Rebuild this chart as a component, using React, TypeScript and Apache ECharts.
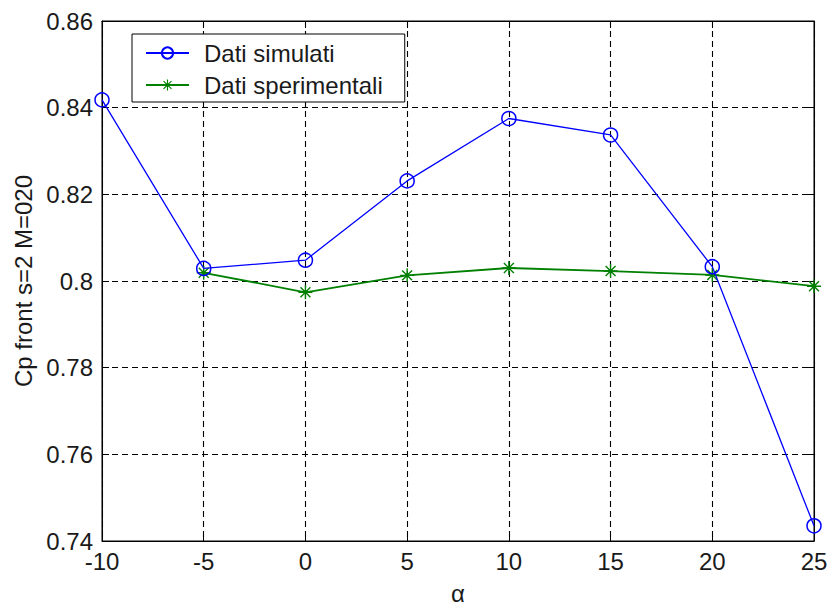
import React, { useEffect, useRef } from "react";
import * as echarts from "echarts";

// Angle of attack (deg)
const alpha = [-10, -5, 0, 5, 10, 15, 20, 25];
// Cp front, simulated
const simulated = [0.8418, 0.8029, 0.8048, 0.8231, 0.8375, 0.8337, 0.8033, 0.7435];
// Cp front, measured (no measurement at -10)
const experimental = [null, 0.8019, 0.7974, 0.8013, 0.803, 0.8023, 0.8014, 0.7988];

const xTicks = { min: -10, max: 25, step: 5 };
const yTicks = { min: 0.74, max: 0.86, step: 0.02 };

// Asterisk marker built from thin bars plus a centre dot
const ASTERISK =
  "path://M9,0L11,0L11,20L9,20Z M0,9L20,9L20,11L0,11Z " +
  "M2.2,3.6L3.6,2.2L17.8,16.4L16.4,17.8Z M16.4,2.2L17.8,3.6L3.6,17.8L2.2,16.4Z " +
  "M7,7L13,7L13,13L7,13Z";

const FONT = "'Liberation Sans', Arial, Helvetica, sans-serif";
const TEXT = "#1a1a1a";
const FS = 24;

export default function App() {
  const ref = useRef<HTMLDivElement>(null);

  useEffect(() => {
    if (!ref.current) return;
    const chart = echarts.init(ref.current, undefined, { renderer: "svg" });

    const pair = (arr: (number | null)[]) =>
      alpha
        .map((a, i) => [a, arr[i]])
        .filter((p) => p[1] !== null) as number[][];

    const fmt = (v: number) => String(+v.toFixed(2));

    const gridDash = { color: "#000", width: 1.1, type: [6, 4] as number[] };

    chart.setOption({
      animation: false,
      backgroundColor: "#fff",
      textStyle: { fontFamily: FONT },
      grid: {
        left: 102,
        top: 21,
        right: 14,
        bottom: 64,
        containLabel: false,
        outerBoundsMode: "none",
        show: true,
        borderColor: "#000",
        borderWidth: 1,
        backgroundColor: "#fff",
      },
      legend: {
        left: 132,
        top: 34,
        orient: "vertical",
        backgroundColor: "#fff",
        borderColor: "#000",
        borderWidth: 1,
        borderRadius: 0,
        padding: [6, 22, 4, 13],
        itemWidth: 43,
        itemHeight: 14,
        itemGap: 6,
        textStyle: {
          fontFamily: FONT,
          fontSize: FS,
          color: TEXT,
          lineHeight: 26,
          padding: [0, 0, 0, 10],
        },
        data: ["Dati simulati", "Dati sperimentali"],
      },
      xAxis: [
        {
          type: "value",
          min: xTicks.min,
          max: xTicks.max,
          interval: xTicks.step,
          name: "α",
          nameLocation: "middle",
          nameGap: 40,
          nameTextStyle: { fontFamily: FONT, fontSize: FS, color: TEXT },
          axisLine: { show: true, onZero: false, lineStyle: { color: "#000", width: 1 } },
          axisTick: { show: true, inside: true, length: 7, lineStyle: { color: "#000" } },
          axisLabel: { fontFamily: FONT, fontSize: FS, color: TEXT, margin: 8, formatter: fmt },
          splitLine: { show: true, lineStyle: gridDash },
        },
        {
          type: "value",
          position: "top",
          min: xTicks.min,
          max: xTicks.max,
          interval: xTicks.step,
          axisLine: { show: true, onZero: false, lineStyle: { color: "#000", width: 1 } },
          axisTick: { show: true, inside: true, length: 7, lineStyle: { color: "#000" } },
          axisLabel: { show: false },
          splitLine: { show: false },
        },
      ],
      yAxis: [
        {
          type: "value",
          min: yTicks.min,
          max: yTicks.max,
          interval: yTicks.step,
          name: "Cp front s=2 M=020",
          nameLocation: "middle",
          nameGap: 67,
          nameTextStyle: { fontFamily: FONT, fontSize: FS, color: TEXT },
          axisLine: { show: true, onZero: false, lineStyle: { color: "#000", width: 1 } },
          axisTick: { show: true, inside: true, length: 7, lineStyle: { color: "#000" } },
          axisLabel: { fontFamily: FONT, fontSize: FS, color: TEXT, margin: 9, formatter: fmt },
          splitLine: { show: true, lineStyle: gridDash },
        },
        {
          type: "value",
          position: "right",
          min: yTicks.min,
          max: yTicks.max,
          interval: yTicks.step,
          axisLine: { show: true, onZero: false, lineStyle: { color: "#000", width: 1 } },
          axisTick: { show: true, inside: true, length: 7, lineStyle: { color: "#000" } },
          axisLabel: { show: false },
          splitLine: { show: false },
        },
      ],
      series: [
        {
          name: "Dati simulati",
          type: "line",
          xAxisIndex: 0,
          yAxisIndex: 0,
          data: pair(simulated),
          symbol: "circle",
          symbolSize: 14,
          showAllSymbol: true,
          lineStyle: { color: "#0000ff", width: 1.3 },
          itemStyle: { color: "rgba(255,255,255,0)", borderColor: "#0000ff", borderWidth: 1.5 },
          z: 3,
        },
        {
          name: "Dati sperimentali",
          type: "line",
          xAxisIndex: 0,
          yAxisIndex: 0,
          data: pair(experimental),
          symbol: ASTERISK,
          symbolSize: 14,
          showAllSymbol: true,
          lineStyle: { color: "#008000", width: 1.8 },
          itemStyle: { color: "#008000" },
          z: 2,
        },
      ],
    });

    return () => chart.dispose();
  }, []);

  return (
    <div
      ref={ref}
      style={{ position: "fixed", left: 0, top: 0, width: 828, height: 605, background: "#fff" }}
    />
  );
}
